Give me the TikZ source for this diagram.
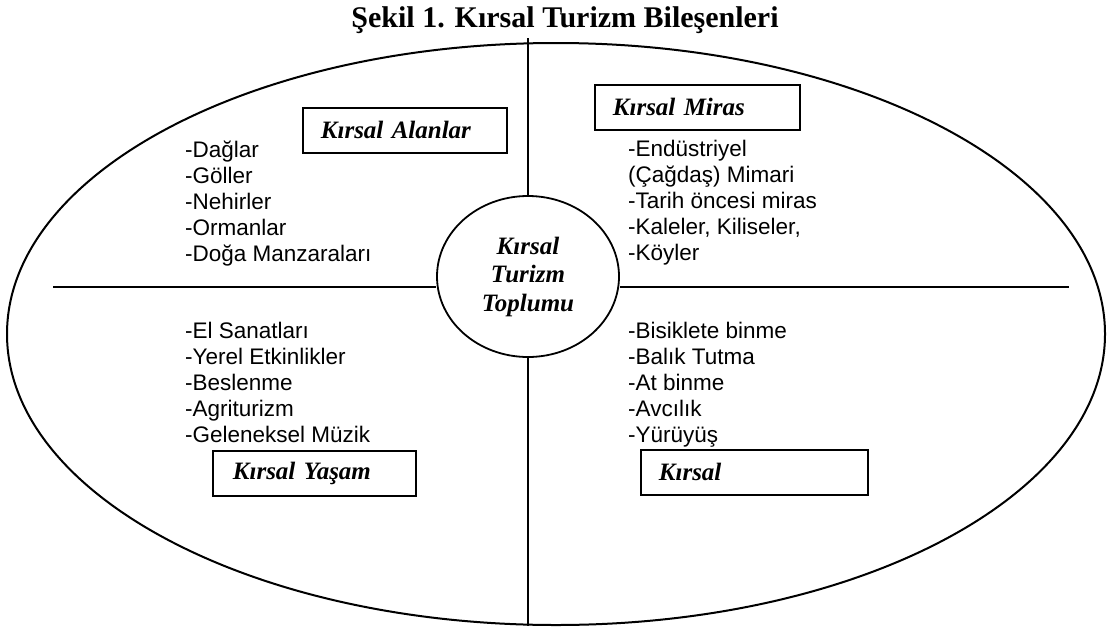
\documentclass[tikz,border=0pt]{standalone}
\usepackage{fontspec}
\setmainfont{Liberation Serif}
\newfontfamily\itemfont{Liberation Sans}
\usetikzlibrary{shapes.geometric,positioning}

\tikzset{
    outline/.style={line width=2pt},
    divider/.style={line width=1.6pt},
    titletext/.style={anchor=base, inner sep=0pt, font=\fontsize{30}{34}\selectfont\bfseries},
    labelbox/.style={draw, line width=1.8pt, anchor=north west, inner xsep=18pt, inner ysep=0pt,
        minimum height=45pt, align=left, font=\fontsize{25}{29}\selectfont\bfseries\itshape},
    % base = baseline of the last line
    itemlist/.style={anchor=base west, inner sep=0pt, align=left,
        font=\fontsize{22.5}{26}\selectfont\itemfont},
    hubnode/.style={ellipse, draw, line width=1.8pt, minimum width=182pt, minimum height=161pt,
        inner sep=0pt, align=center, font=\fontsize{25}{28.5}\selectfont\bfseries\itshape},
}

\begin{document}
\begin{tikzpicture}[x=1pt, y=-1pt]
    \useasboundingbox (0,0) rectangle (1107,627);

    \node[titletext] (title) at (565,27) {Şekil 1. Kırsal Turizm Bileşenleri};

    % outer ellipse
    \draw[outline] (556,334) ellipse [x radius=549, y radius=291];

    % centre
    \node[hubnode] (core) at (528,276.5) {Kırsal\\Turizm\\Toplumu};

    % dividers
    \coordinate (top) at (528,38);
    \coordinate (bottom) at (528,626);
    \coordinate (left) at (53,287);
    \coordinate (right) at (1069,287);
    \draw[divider] (top) -- (core.north);
    \draw[divider] (core.south) -- (bottom);
    \draw[divider] (left) -- (left -| core.west);
    \draw[divider] (right -| core.east) -- (right);

    % quarter headings
    \node[labelbox, text width=168pt] (alanlar) at (302,107) {Kırsal Alanlar};
    \node[labelbox, text width=169pt] (miras) at (594,84) {Kırsal Miras};
    \node[labelbox, text width=163pt, inner xsep=20pt] (yasam) at (212,450) {Kırsal Yaşam};
    \node[labelbox, text width=191pt] (rekreasyon) at (640,449) {Kırsal};

    % quarter items
    \node[itemlist] (alanlarlist) at (185,261) {-Dağlar\\-Göller\\-Nehirler\\-Ormanlar\\-Doğa Manzaraları};
    \node[itemlist] (miraslist) at (628,260) {-Endüstriyel\\(Çağdaş) Mimari\\-Tarih öncesi miras\\-Kaleler, Kiliseler,\\-Köyler};
    \node[itemlist] (yasamlist) at (185,442) {-El Sanatları\\-Yerel Etkinlikler\\-Beslenme\\-Agriturizm\\-Geleneksel Müzik};
    \node[itemlist] (rekreasyonlist) at (628,442) {-Bisiklete binme\\-Balık Tutma\\-At binme\\-Avcılık\\-Yürüyüş};
\end{tikzpicture}
\end{document}
